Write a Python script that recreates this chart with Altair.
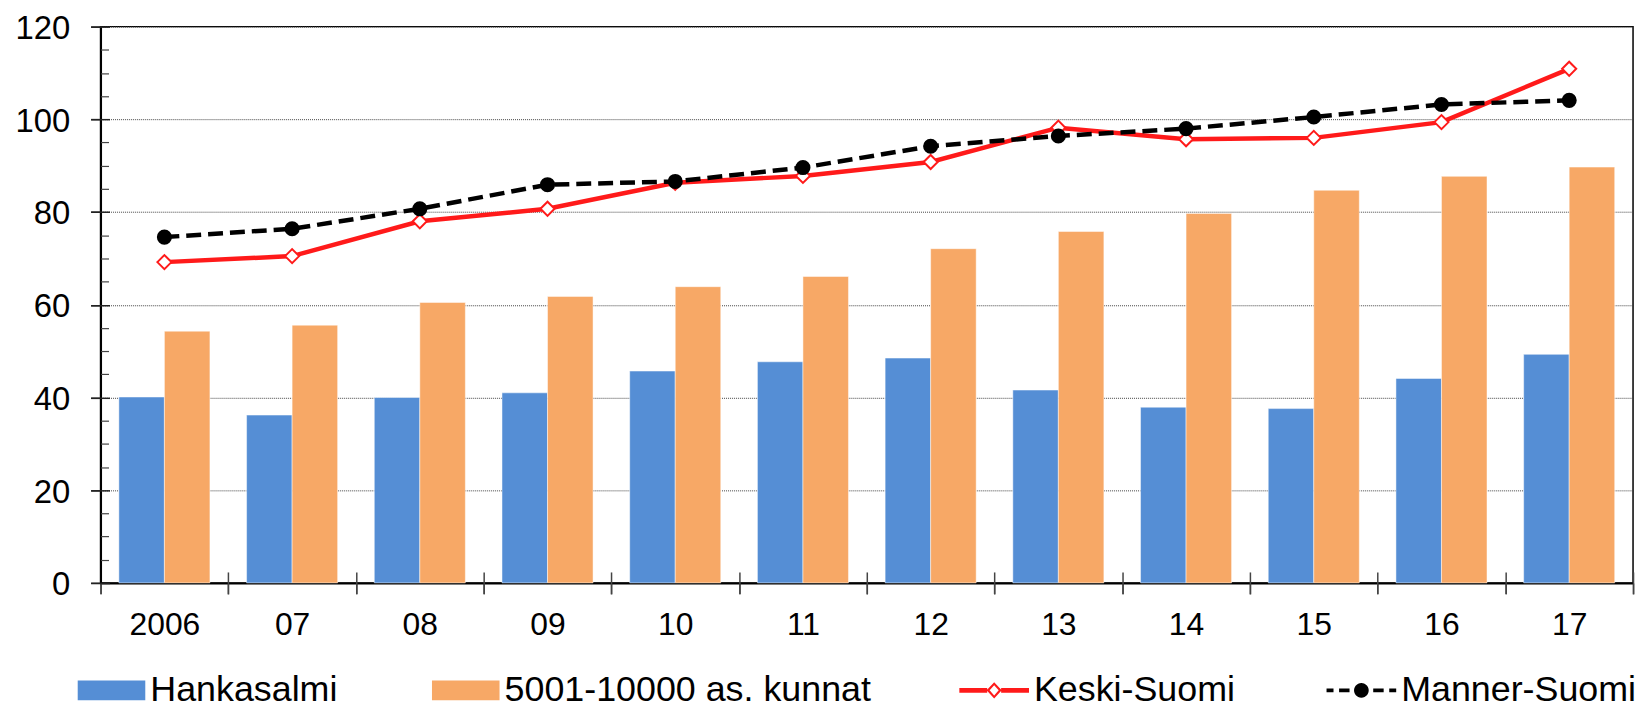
import math
import altair as alt
import pandas as pd

# ---- data ----
years = ["2006", "07", "08", "09", "10", "11", "12", "13", "14", "15", "16", "17"]
hankasalmi = [40.1, 36.2, 40.0, 41.0, 45.7, 47.7, 48.5, 41.6, 37.9, 37.6, 44.1, 49.3]
kunnat = [54.3, 55.6, 60.5, 61.8, 63.9, 66.1, 72.1, 75.8, 79.7, 84.7, 87.7, 89.7]
keski_suomi = [69.2, 70.5, 78.0, 80.7, 86.3, 87.8, 90.8, 98.2, 95.7, 96.0, 99.4, 110.9]
manner_suomi = [74.6, 76.4, 80.7, 85.9, 86.6, 89.6, 94.2, 96.4, 98.0, 100.5, 103.2, 104.1]

bar_series = ["Hankasalmi", "5001-10000 as. kunnat"]
line_series = ["Keski-Suomi", "Manner-Suomi"]
major_ticks = [0, 20, 40, 60, 80, 100, 120]
minor_ticks = [5, 10, 15, 25, 30, 35, 45, 50, 55, 65, 70, 75, 85, 90, 95, 105, 110, 115]

bar_df = pd.DataFrame(
    [{"year": y, "series": bar_series[0], "value": v} for y, v in zip(years, hankasalmi)]
    + [{"year": y, "series": bar_series[1], "value": v} for y, v in zip(years, kunnat)]
)
line_df = pd.DataFrame(
    [{"year": y, "series": line_series[0], "value": v} for y, v in zip(years, keski_suomi)]
    + [{"year": y, "series": line_series[1], "value": v} for y, v in zip(years, manner_suomi)]
)

# ---- styles ----
FONT = "Liberation Sans"
BLUE = "#558ED5"
ORANGE = "#F7A866"
RED = "#FF1A1A"
BLACK = "#000000"

# legend symbol paths (unit square [-1,1])
SWATCH_PATH = "M-0.97,-0.28H0.97V0.28H-0.97Z"
KESKI_PATH = ("M-1,-0.066H-0.2V0.066H-1Z M0.2,-0.066H1V0.066H0.2Z "
              "M0,-0.234L0.217,0L0,0.234L-0.217,0Z M0,-0.147L-0.13,0L0,0.147L0.13,0Z")
_r = 0.211
_circle = "M" + " L".join(
    f"{_r*math.cos(2*math.pi*k/28):.4f},{_r*math.sin(2*math.pi*k/28):.4f}" for k in range(28)
) + "Z"
MANNER_PATH = ("M-1,-0.056H-0.8V0.056H-1Z M-0.64,-0.056H-0.34V0.056H-0.64Z "
               "M0.34,-0.056H0.64V0.056H0.34Z M0.8,-0.056H1V0.056H0.8Z " + _circle)

yscale = alt.Scale(domain=[0, 120], nice=False, zero=True)
xscale = alt.Scale(paddingInner=0, paddingOuter=0)

main_y_axis = alt.Axis(
    values=major_ticks, title=None, orient="left",
    labelFont=FONT, labelFontSize=33, labelColor="black", labelPadding=21, labelOffset=2,
    tickSize=10, tickColor="#222", tickWidth=1.5,
    domain=True, domainColor="black", domainWidth=2,
    grid=True, gridColor="#444", gridDash=[1, 1], gridWidth=1,
    labelOverlap=False, labelFlush=False,
)
cross_y_axis = alt.Axis(
    values=major_ticks, title=None, orient="left", offset=-9, labels=False,
    tickSize=19, tickColor="#222", tickWidth=1.5, domain=False, grid=False,
)
minor_y_axis = alt.Axis(
    values=minor_ticks, title=None, orient="left", offset=-8, labels=False,
    tickSize=8, tickColor="#444", tickWidth=1.2, domain=False, grid=False,
)
main_x_axis = alt.Axis(
    title=None, orient="bottom", labelAngle=0,
    labelFont=FONT, labelFontSize=32, labelColor="black", labelPadding=16,
    tickBand="extent", tickSize=11, tickColor="#444", tickWidth=1.5,
    domain=True, domainColor="black", domainWidth=2, grid=False,
)
cross_x_axis = alt.Axis(
    title=None, orient="bottom", offset=-11, labels=False,
    tickBand="extent", tickSize=22, tickColor="#444", tickWidth=1.5,
    domain=False, grid=False,
)

bar_legend = alt.Legend(
    title=None, orient="none", legendX=-24, legendY=632, direction="horizontal",
    symbolType=SWATCH_PATH, symbolSize=70 * 70, symbolStrokeWidth=0,
    labelFont=FONT, labelFontSize=36, labelColor="black", labelOffset=4, labelLimit=1000,
    columnPadding=93, padding=0,
)
line_legend = alt.Legend(
    title=None, orient="none", legendX=863, legendY=632, direction="horizontal",
    symbolSize=70 * 70, symbolStrokeWidth=0, symbolOpacity=1,
    labelFont=FONT, labelFontSize=36, labelColor="black", labelOffset=5, labelLimit=1000,
    columnPadding=91, padding=0,
)

bars = alt.Chart(bar_df).mark_bar(stroke="white", strokeWidth=0.8, strokeOpacity=0.6).encode(
    x=alt.X("year:N", sort=years, scale=xscale, axis=main_x_axis),
    xOffset=alt.XOffset("series:N", sort=bar_series,
                        scale=alt.Scale(paddingInner=0, paddingOuter=0.4025)),
    y=alt.Y("value:Q", scale=yscale, axis=main_y_axis),
    fill=alt.Fill("series:N", scale=alt.Scale(domain=bar_series, range=[BLUE, ORANGE]),
                  legend=bar_legend),
)

red_line = alt.Chart(line_df).transform_filter(
    alt.datum.series == line_series[0]
).mark_line(color=RED, strokeWidth=4.5).encode(
    x=alt.X("year:N", sort=years, scale=xscale, axis=cross_x_axis),
    y=alt.Y("value:Q", scale=yscale, axis=cross_y_axis),
)
red_pts = alt.Chart(line_df).transform_filter(
    alt.datum.series == line_series[0]
).mark_point(shape="diamond", filled=True, fill="white", stroke=RED, strokeWidth=2,
             size=200, opacity=1).encode(
    x=alt.X("year:N", sort=years, scale=xscale, axis=None),
    y=alt.Y("value:Q", scale=yscale, axis=None),
)
black_line = alt.Chart(line_df).transform_filter(
    alt.datum.series == line_series[1]
).mark_line(color=BLACK, strokeWidth=4.5, strokeDash=[15, 7]).encode(
    x=alt.X("year:N", sort=years, scale=xscale, axis=None),
    y=alt.Y("value:Q", scale=yscale, axis=minor_y_axis),
)
black_pts = alt.Chart(line_df).transform_filter(
    alt.datum.series == line_series[1]
).mark_point(shape="circle", filled=True, color=BLACK, size=230, opacity=1).encode(
    x=alt.X("year:N", sort=years, scale=xscale, axis=None),
    y=alt.Y("value:Q", scale=yscale, axis=None),
)

# legend carrier for the line series (draws no marks)
legend_carrier = alt.Chart(line_df).transform_filter("datum.value < 0").mark_point(
    filled=True, opacity=0
).encode(
    color=alt.Color("series:N", scale=alt.Scale(domain=line_series, range=[RED, BLACK]),
                    legend=line_legend),
    shape=alt.Shape("series:N", scale=alt.Scale(domain=line_series,
                                               range=[KESKI_PATH, MANNER_PATH]),
                    legend=line_legend),
)

chart = alt.layer(
    bars, red_line, red_pts, black_line, black_pts, legend_carrier
).resolve_axis(
    x="independent", y="independent"
).resolve_scale(
    x="shared", y="shared"
).properties(
    width=1540, height=559,
    padding={"left": 93, "top": 17, "right": 8, "bottom": 125},
    autosize=alt.AutoSizeParams(type="none"),
    background="white",
).configure_view(
    fill="#F7F7F7", stroke="black", strokeWidth=1.5
)

chart.save("out.html", embed_options={"renderer": "svg", "actions": False})
